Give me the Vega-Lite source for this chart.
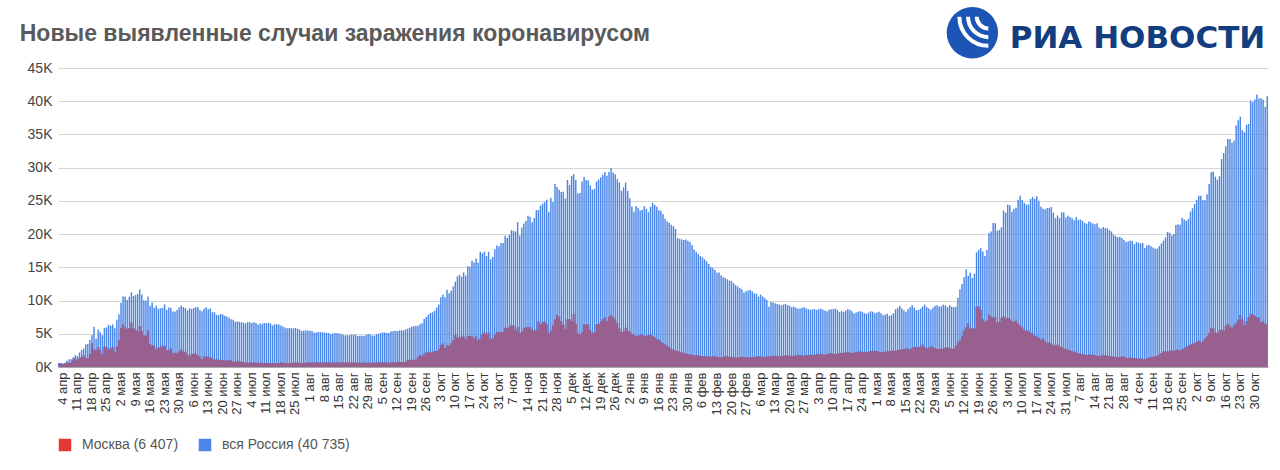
{
  "$schema": "https://vega.github.io/schema/vega-lite/v6.json",
  "autosize": "none",
  "width": 1210,
  "height": 299,
  "padding": {"left": 58, "right": 12, "top": 68, "bottom": 103},
  "background": "white",
  "datasets": {
    "covid": [
      {"d":"2020-04-02","r":601,"m":595},{"d":"2020-04-03","r":601,"m":499},{"d":"2020-04-04","r":582,"m":434},{"d":"2020-04-05","r":658,"m":536},{"d":"2020-04-06","r":954,"m":697},{"d":"2020-04-07","r":1154,"m":591},{"d":"2020-04-08","r":1175,"m":660},{"d":"2020-04-09","r":1459,"m":1124},{"d":"2020-04-10","r":1786,"m":1306},{"d":"2020-04-11","r":1667,"m":1030},{"d":"2020-04-12","r":2186,"m":1355},{"d":"2020-04-13","r":2558,"m":1489},{"d":"2020-04-14","r":2774,"m":1774},{"d":"2020-04-15","r":3388,"m":1359},{"d":"2020-04-16","r":3448,"m":1370},{"d":"2020-04-17","r":4070,"m":1959},{"d":"2020-04-18","r":4785,"m":3570},{"d":"2020-04-19","r":6060,"m":2649},{"d":"2020-04-20","r":4268,"m":2548},{"d":"2020-04-21","r":5642,"m":2957},{"d":"2020-04-22","r":5236,"m":2612},{"d":"2020-04-23","r":4774,"m":1959},{"d":"2020-04-24","r":5849,"m":3083},{"d":"2020-04-25","r":5966,"m":2971},{"d":"2020-04-26","r":6361,"m":2589},{"d":"2020-04-27","r":6198,"m":2871},{"d":"2020-04-28","r":6411,"m":2957},{"d":"2020-04-29","r":5841,"m":2220},{"d":"2020-04-30","r":7099,"m":3075},
      {"d":"2020-05-01","r":7933,"m":4100},{"d":"2020-05-02","r":9623,"m":5858},{"d":"2020-05-03","r":10633,"m":6418},{"d":"2020-05-04","r":10581,"m":5948},{"d":"2020-05-05","r":10102,"m":5714},{"d":"2020-05-06","r":10559,"m":5858},{"d":"2020-05-07","r":11231,"m":6703},{"d":"2020-05-08","r":10699,"m":5846},{"d":"2020-05-09","r":10817,"m":5667},{"d":"2020-05-10","r":11012,"m":5392},{"d":"2020-05-11","r":11656,"m":6169},{"d":"2020-05-12","r":10899,"m":5392},{"d":"2020-05-13","r":10028,"m":4748},{"d":"2020-05-14","r":9974,"m":4703},{"d":"2020-05-15","r":10598,"m":5505},{"d":"2020-05-16","r":9200,"m":3505},{"d":"2020-05-17","r":9709,"m":3238},{"d":"2020-05-18","r":8926,"m":3238},{"d":"2020-05-19","r":9263,"m":2699},{"d":"2020-05-20","r":8764,"m":2913},{"d":"2020-05-21","r":8849,"m":2988},{"d":"2020-05-22","r":8894,"m":3190},{"d":"2020-05-23","r":9434,"m":3187},{"d":"2020-05-24","r":8599,"m":2516},{"d":"2020-05-25","r":8946,"m":2546},{"d":"2020-05-26","r":8915,"m":2830},{"d":"2020-05-27","r":8338,"m":2054},{"d":"2020-05-28","r":8371,"m":2140},{"d":"2020-05-29","r":8572,"m":2054},{"d":"2020-05-30","r":8952,"m":2332},{"d":"2020-05-31","r":9268,"m":2595},
      {"d":"2020-06-01","r":9035,"m":2297},{"d":"2020-06-02","r":8863,"m":2286},{"d":"2020-06-03","r":8536,"m":1842},{"d":"2020-06-04","r":8831,"m":1572},{"d":"2020-06-05","r":8726,"m":1951},{"d":"2020-06-06","r":8855,"m":2001},{"d":"2020-06-07","r":8984,"m":2001},{"d":"2020-06-08","r":8985,"m":1732},{"d":"2020-06-09","r":8595,"m":1559},{"d":"2020-06-10","r":8404,"m":1195},{"d":"2020-06-11","r":8779,"m":1572},{"d":"2020-06-12","r":8987,"m":1547},{"d":"2020-06-13","r":8706,"m":1575},{"d":"2020-06-14","r":8835,"m":1380},{"d":"2020-06-15","r":8246,"m":1378},{"d":"2020-06-16","r":8248,"m":1057},{"d":"2020-06-17","r":7843,"m":1195},{"d":"2020-06-18","r":7790,"m":1068},{"d":"2020-06-19","r":7972,"m":1070},{"d":"2020-06-20","r":7889,"m":1068},{"d":"2020-06-21","r":7728,"m":936},{"d":"2020-06-22","r":7600,"m":1060},{"d":"2020-06-23","r":7425,"m":1000},{"d":"2020-06-24","r":7176,"m":1000},{"d":"2020-06-25","r":7113,"m":804},{"d":"2020-06-26","r":6800,"m":734},{"d":"2020-06-27","r":6852,"m":848},{"d":"2020-06-28","r":6791,"m":844},{"d":"2020-06-29","r":6719,"m":829},{"d":"2020-06-30","r":6693,"m":711},
      {"d":"2020-07-01","r":6556,"m":673},{"d":"2020-07-02","r":6760,"m":654},{"d":"2020-07-03","r":6718,"m":659},{"d":"2020-07-04","r":6632,"m":651},{"d":"2020-07-05","r":6736,"m":660},{"d":"2020-07-06","r":6611,"m":644},{"d":"2020-07-07","r":6368,"m":659},{"d":"2020-07-08","r":6562,"m":589},{"d":"2020-07-09","r":6509,"m":650},{"d":"2020-07-10","r":6635,"m":600},{"d":"2020-07-11","r":6611,"m":626},{"d":"2020-07-12","r":6615,"m":569},{"d":"2020-07-13","r":6537,"m":589},{"d":"2020-07-14","r":6248,"m":601},{"d":"2020-07-15","r":6422,"m":608},{"d":"2020-07-16","r":6428,"m":577},{"d":"2020-07-17","r":6406,"m":611},{"d":"2020-07-18","r":6234,"m":697},{"d":"2020-07-19","r":6109,"m":654},{"d":"2020-07-20","r":5940,"m":639},{"d":"2020-07-21","r":5842,"m":605},{"d":"2020-07-22","r":5862,"m":567},{"d":"2020-07-23","r":5848,"m":589},{"d":"2020-07-24","r":5811,"m":641},{"d":"2020-07-25","r":5871,"m":651},{"d":"2020-07-26","r":5765,"m":668},{"d":"2020-07-27","r":5635,"m":608},{"d":"2020-07-28","r":5395,"m":575},{"d":"2020-07-29","r":5475,"m":644},{"d":"2020-07-30","r":5509,"m":645},{"d":"2020-07-31","r":5482,"m":680},
      {"d":"2020-08-01","r":5462,"m":695},{"d":"2020-08-02","r":5427,"m":686},{"d":"2020-08-03","r":5159,"m":662},{"d":"2020-08-04","r":5204,"m":688},{"d":"2020-08-05","r":5267,"m":697},{"d":"2020-08-06","r":5241,"m":684},{"d":"2020-08-07","r":5212,"m":686},{"d":"2020-08-08","r":5189,"m":693},{"d":"2020-08-09","r":5118,"m":692},{"d":"2020-08-10","r":5102,"m":683},{"d":"2020-08-11","r":4945,"m":678},{"d":"2020-08-12","r":5041,"m":681},{"d":"2020-08-13","r":5102,"m":689},{"d":"2020-08-14","r":5065,"m":693},{"d":"2020-08-15","r":5061,"m":698},{"d":"2020-08-16","r":4969,"m":691},{"d":"2020-08-17","r":4839,"m":690},{"d":"2020-08-18","r":4748,"m":668},{"d":"2020-08-19","r":4790,"m":674},{"d":"2020-08-20","r":4767,"m":679},{"d":"2020-08-21","r":4870,"m":685},{"d":"2020-08-22","r":4838,"m":675},{"d":"2020-08-23","r":4852,"m":660},{"d":"2020-08-24","r":4676,"m":646},{"d":"2020-08-25","r":4696,"m":649},{"d":"2020-08-26","r":4711,"m":633},{"d":"2020-08-27","r":4676,"m":632},{"d":"2020-08-28","r":4829,"m":629},{"d":"2020-08-29","r":4980,"m":687},{"d":"2020-08-30","r":4897,"m":641},{"d":"2020-08-31","r":4729,"m":647},
      {"d":"2020-09-01","r":4729,"m":632},{"d":"2020-09-02","r":4952,"m":668},{"d":"2020-09-03","r":4995,"m":705},{"d":"2020-09-04","r":5110,"m":691},{"d":"2020-09-05","r":5205,"m":700},{"d":"2020-09-06","r":5185,"m":695},{"d":"2020-09-07","r":5099,"m":698},{"d":"2020-09-08","r":5099,"m":650},{"d":"2020-09-09","r":5363,"m":695},{"d":"2020-09-10","r":5363,"m":727},{"d":"2020-09-11","r":5449,"m":733},{"d":"2020-09-12","r":5406,"m":744},{"d":"2020-09-13","r":5488,"m":765},{"d":"2020-09-14","r":5509,"m":752},{"d":"2020-09-15","r":5529,"m":718},{"d":"2020-09-16","r":5670,"m":770},{"d":"2020-09-17","r":5762,"m":1050},{"d":"2020-09-18","r":5905,"m":1095},{"d":"2020-09-19","r":6065,"m":1040},{"d":"2020-09-20","r":6148,"m":1056},{"d":"2020-09-21","r":6196,"m":1136},{"d":"2020-09-22","r":6215,"m":1560},{"d":"2020-09-23","r":6431,"m":1792},{"d":"2020-09-24","r":6595,"m":1660},{"d":"2020-09-25","r":7212,"m":2016},{"d":"2020-09-26","r":7523,"m":2200},{"d":"2020-09-27","r":7867,"m":2216},{"d":"2020-09-28","r":8135,"m":2300},{"d":"2020-09-29","r":8232,"m":2140},{"d":"2020-09-30","r":8481,"m":2424},
      {"d":"2020-10-01","r":8945,"m":2424},{"d":"2020-10-02","r":9412,"m":2704},{"d":"2020-10-03","r":10499,"m":3327},{"d":"2020-10-04","r":10888,"m":3537},{"d":"2020-10-05","r":10499,"m":2871},{"d":"2020-10-06","r":11615,"m":3229},{"d":"2020-10-07","r":11115,"m":3254},{"d":"2020-10-08","r":11493,"m":3537},{"d":"2020-10-09","r":12126,"m":4082},{"d":"2020-10-10","r":12846,"m":4842},{"d":"2020-10-11","r":13634,"m":4406},{"d":"2020-10-12","r":13868,"m":4441},{"d":"2020-10-13","r":13592,"m":4575},{"d":"2020-10-14","r":14231,"m":4565},{"d":"2020-10-15","r":13754,"m":4212},{"d":"2020-10-16","r":15150,"m":4648},{"d":"2020-10-17","r":15099,"m":4629},{"d":"2020-10-18","r":15982,"m":4610},{"d":"2020-10-19","r":15722,"m":4293},{"d":"2020-10-20","r":16319,"m":4593},{"d":"2020-10-21","r":15700,"m":4016},{"d":"2020-10-22","r":17340,"m":4285},{"d":"2020-10-23","r":17113,"m":4964},{"d":"2020-10-24","r":17347,"m":5232},{"d":"2020-10-25","r":16710,"m":4983},{"d":"2020-10-26","r":17347,"m":5224},{"d":"2020-10-27","r":16202,"m":4244},{"d":"2020-10-28","r":16550,"m":4312},{"d":"2020-10-29","r":17717,"m":4844},{"d":"2020-10-30","r":18283,"m":5268},{"d":"2020-10-31","r":18140,"m":5209},
      {"d":"2020-11-01","r":18665,"m":5261},{"d":"2020-11-02","r":18648,"m":5257},{"d":"2020-11-03","r":19768,"m":5902},{"d":"2020-11-04","r":19404,"m":5882},{"d":"2020-11-05","r":19851,"m":5971},{"d":"2020-11-06","r":20582,"m":6253},{"d":"2020-11-07","r":20498,"m":6230},{"d":"2020-11-08","r":20396,"m":5482},{"d":"2020-11-09","r":21798,"m":5997},{"d":"2020-11-10","r":19788,"m":5061},{"d":"2020-11-11","r":20977,"m":5358},{"d":"2020-11-12","r":21608,"m":5829},{"d":"2020-11-13","r":21983,"m":5986},{"d":"2020-11-14","r":22778,"m":5981},{"d":"2020-11-15","r":22572,"m":6001},{"d":"2020-11-16","r":21798,"m":5631},{"d":"2020-11-17","r":22410,"m":5403},{"d":"2020-11-18","r":23610,"m":5623},{"d":"2020-11-19","r":23610,"m":6902},{"d":"2020-11-20","r":24318,"m":6424},{"d":"2020-11-21","r":24581,"m":6775},{"d":"2020-11-22","r":24822,"m":6866},{"d":"2020-11-23","r":25173,"m":6438},{"d":"2020-11-24","r":23351,"m":5027},{"d":"2020-11-25","r":25487,"m":5455},{"d":"2020-11-26","r":24838,"m":6302},{"d":"2020-11-27","r":27543,"m":7168},{"d":"2020-11-28","r":27100,"m":7872},{"d":"2020-11-29","r":26683,"m":7578},{"d":"2020-11-30","r":26338,"m":6902},
      {"d":"2020-12-01","r":26402,"m":6349},{"d":"2020-12-02","r":25345,"m":5694},{"d":"2020-12-03","r":28145,"m":7168},{"d":"2020-12-04","r":27403,"m":7168},{"d":"2020-12-05","r":28782,"m":6879},{"d":"2020-12-06","r":29039,"m":7993},{"d":"2020-12-07","r":28142,"m":6509},{"d":"2020-12-08","r":26097,"m":5093},{"d":"2020-12-09","r":26190,"m":4902},{"d":"2020-12-10","r":27927,"m":5254},{"d":"2020-12-11","r":28585,"m":6423},{"d":"2020-12-12","r":28137,"m":6348},{"d":"2020-12-13","r":28080,"m":6463},{"d":"2020-12-14","r":27328,"m":5623},{"d":"2020-12-15","r":26689,"m":5112},{"d":"2020-12-16","r":26809,"m":5222},{"d":"2020-12-17","r":27921,"m":6430},{"d":"2020-12-18","r":28209,"m":6478},{"d":"2020-12-19","r":28552,"m":6808},{"d":"2020-12-20","r":28948,"m":7208},{"d":"2020-12-21","r":29350,"m":7504},{"d":"2020-12-22","r":28776,"m":6914},{"d":"2020-12-23","r":29350,"m":7570},{"d":"2020-12-24","r":29935,"m":7797},{"d":"2020-12-25","r":29258,"m":7570},{"d":"2020-12-26","r":29018,"m":7187},{"d":"2020-12-27","r":28284,"m":6603},{"d":"2020-12-28","r":27787,"m":5789},{"d":"2020-12-29","r":26513,"m":5286},{"d":"2020-12-30","r":27039,"m":5341},{"d":"2020-12-31","r":27747,"m":5904},
      {"d":"2021-01-01","r":26500,"m":5500},{"d":"2021-01-02","r":25400,"m":5300},{"d":"2021-01-03","r":24150,"m":4995},{"d":"2021-01-04","r":23351,"m":4800},{"d":"2021-01-05","r":24246,"m":4650},{"d":"2021-01-06","r":23946,"m":4700},{"d":"2021-01-07","r":23541,"m":4800},{"d":"2021-01-08","r":23652,"m":4890},{"d":"2021-01-09","r":24217,"m":4700},{"d":"2021-01-10","r":23800,"m":4620},{"d":"2021-01-11","r":23309,"m":4820},{"d":"2021-01-12","r":24092,"m":4900},{"d":"2021-01-13","r":24715,"m":4650},{"d":"2021-01-14","r":24400,"m":4500},{"d":"2021-01-15","r":24100,"m":4200},{"d":"2021-01-16","r":23600,"m":4100},{"d":"2021-01-17","r":23500,"m":3800},{"d":"2021-01-18","r":23000,"m":3600},{"d":"2021-01-19","r":22300,"m":3400},{"d":"2021-01-20","r":21900,"m":3200},{"d":"2021-01-21","r":21700,"m":3000},{"d":"2021-01-22","r":21400,"m":2700},{"d":"2021-01-23","r":21200,"m":2600},{"d":"2021-01-24","r":20800,"m":2500},{"d":"2021-01-25","r":19400,"m":2400},{"d":"2021-01-26","r":19300,"m":2300},{"d":"2021-01-27","r":19200,"m":2200},{"d":"2021-01-28","r":19100,"m":2100},{"d":"2021-01-29","r":19200,"m":2000},{"d":"2021-01-30","r":19000,"m":1950},{"d":"2021-01-31","r":18800,"m":1900},
      {"d":"2021-02-01","r":18359,"m":1850},{"d":"2021-02-02","r":17700,"m":1800},{"d":"2021-02-03","r":17300,"m":1750},{"d":"2021-02-04","r":17000,"m":1780},{"d":"2021-02-05","r":16688,"m":1700},{"d":"2021-02-06","r":16500,"m":1650},{"d":"2021-02-07","r":16200,"m":1600},{"d":"2021-02-08","r":15900,"m":1620},{"d":"2021-02-09","r":15500,"m":1580},{"d":"2021-02-10","r":15038,"m":1560},{"d":"2021-02-11","r":14900,"m":1600},{"d":"2021-02-12","r":14600,"m":1650},{"d":"2021-02-13","r":14200,"m":1550},{"d":"2021-02-14","r":14207,"m":1500},{"d":"2021-02-15","r":13800,"m":1480},{"d":"2021-02-16","r":13500,"m":1520},{"d":"2021-02-17","r":13400,"m":1600},{"d":"2021-02-18","r":13200,"m":1580},{"d":"2021-02-19","r":13000,"m":1550},{"d":"2021-02-20","r":12953,"m":1500},{"d":"2021-02-21","r":12600,"m":1450},{"d":"2021-02-22","r":12300,"m":1400},{"d":"2021-02-23","r":12100,"m":1480},{"d":"2021-02-24","r":11900,"m":1520},{"d":"2021-02-25","r":11700,"m":1550},{"d":"2021-02-26","r":11198,"m":1500},{"d":"2021-02-27","r":11400,"m":1450},{"d":"2021-02-28","r":11500,"m":1480},
      {"d":"2021-03-01","r":11571,"m":1450},{"d":"2021-03-02","r":11400,"m":1480},{"d":"2021-03-03","r":11100,"m":1520},{"d":"2021-03-04","r":11000,"m":1580},{"d":"2021-03-05","r":10595,"m":1600},{"d":"2021-03-06","r":10900,"m":1620},{"d":"2021-03-07","r":10600,"m":1550},{"d":"2021-03-08","r":10400,"m":1500},{"d":"2021-03-09","r":10100,"m":1580},{"d":"2021-03-10","r":9079,"m":1620},{"d":"2021-03-11","r":9800,"m":1650},{"d":"2021-03-12","r":9700,"m":1700},{"d":"2021-03-13","r":9600,"m":1680},{"d":"2021-03-14","r":9500,"m":1620},{"d":"2021-03-15","r":9393,"m":1600},{"d":"2021-03-16","r":9300,"m":1650},{"d":"2021-03-17","r":9400,"m":1700},{"d":"2021-03-18","r":9500,"m":1750},{"d":"2021-03-19","r":9300,"m":1720},{"d":"2021-03-20","r":9215,"m":1680},{"d":"2021-03-21","r":9000,"m":1650},{"d":"2021-03-22","r":9100,"m":1700},{"d":"2021-03-23","r":8900,"m":1750},{"d":"2021-03-24","r":8800,"m":1800},{"d":"2021-03-25","r":8769,"m":1780},{"d":"2021-03-26","r":8900,"m":1720},{"d":"2021-03-27","r":9000,"m":1700},{"d":"2021-03-28","r":8800,"m":1750},{"d":"2021-03-29","r":8700,"m":1800},{"d":"2021-03-30","r":8600,"m":1850},{"d":"2021-03-31","r":8700,"m":1800},
      {"d":"2021-04-01","r":8711,"m":1850},{"d":"2021-04-02","r":8600,"m":1900},{"d":"2021-04-03","r":8700,"m":1950},{"d":"2021-04-04","r":8800,"m":2000},{"d":"2021-04-05","r":8600,"m":1900},{"d":"2021-04-06","r":8500,"m":1850},{"d":"2021-04-07","r":8400,"m":1950},{"d":"2021-04-08","r":8600,"m":2050},{"d":"2021-04-09","r":8700,"m":2100},{"d":"2021-04-10","r":8702,"m":2000},{"d":"2021-04-11","r":8800,"m":1950},{"d":"2021-04-12","r":8600,"m":2050},{"d":"2021-04-13","r":8300,"m":2100},{"d":"2021-04-14","r":8400,"m":2150},{"d":"2021-04-15","r":8300,"m":2100},{"d":"2021-04-16","r":8500,"m":2200},{"d":"2021-04-17","r":8700,"m":2250},{"d":"2021-04-18","r":8600,"m":2200},{"d":"2021-04-19","r":8400,"m":2100},{"d":"2021-04-20","r":8053,"m":2150},{"d":"2021-04-21","r":8200,"m":2250},{"d":"2021-04-22","r":8300,"m":2300},{"d":"2021-04-23","r":8400,"m":2350},{"d":"2021-04-24","r":8300,"m":2300},{"d":"2021-04-25","r":8100,"m":2250},{"d":"2021-04-26","r":8000,"m":2200},{"d":"2021-04-27","r":8200,"m":2300},{"d":"2021-04-28","r":8400,"m":2400},{"d":"2021-04-29","r":8300,"m":2450},{"d":"2021-04-30","r":8100,"m":2400},
      {"d":"2021-05-01","r":8200,"m":2400},{"d":"2021-05-02","r":8300,"m":2300},{"d":"2021-05-03","r":8100,"m":2250},{"d":"2021-05-04","r":7800,"m":2200},{"d":"2021-05-05","r":7900,"m":2300},{"d":"2021-05-06","r":8000,"m":2350},{"d":"2021-05-07","r":7700,"m":2400},{"d":"2021-05-08","r":7800,"m":2450},{"d":"2021-05-09","r":8100,"m":2500},{"d":"2021-05-10","r":8697,"m":2400},{"d":"2021-05-11","r":8900,"m":2550},{"d":"2021-05-12","r":9200,"m":2600},{"d":"2021-05-13","r":8800,"m":2650},{"d":"2021-05-14","r":8500,"m":2700},{"d":"2021-05-15","r":8300,"m":2800},{"d":"2021-05-16","r":8700,"m":2750},{"d":"2021-05-17","r":9000,"m":2650},{"d":"2021-05-18","r":9300,"m":2900},{"d":"2021-05-19","r":8900,"m":3000},{"d":"2021-05-20","r":8564,"m":3050},{"d":"2021-05-21","r":8600,"m":2950},{"d":"2021-05-22","r":8800,"m":3100},{"d":"2021-05-23","r":9100,"m":3400},{"d":"2021-05-24","r":9400,"m":3000},{"d":"2021-05-25","r":9000,"m":2800},{"d":"2021-05-26","r":8800,"m":2900},{"d":"2021-05-27","r":8600,"m":3100},{"d":"2021-05-28","r":8900,"m":3000},{"d":"2021-05-29","r":9200,"m":2850},{"d":"2021-05-30","r":9300,"m":2700},{"d":"2021-05-31","r":9100,"m":2750},
      {"d":"2021-06-01","r":9145,"m":2700},{"d":"2021-06-02","r":9400,"m":2800},{"d":"2021-06-03","r":9300,"m":2900},{"d":"2021-06-04","r":9000,"m":3000},{"d":"2021-06-05","r":9289,"m":2850},{"d":"2021-06-06","r":9100,"m":2700},{"d":"2021-06-07","r":9000,"m":2800},{"d":"2021-06-08","r":9068,"m":3200},{"d":"2021-06-09","r":10407,"m":3700},{"d":"2021-06-10","r":11699,"m":4000},{"d":"2021-06-11","r":12505,"m":4700},{"d":"2021-06-12","r":13510,"m":5500},{"d":"2021-06-13","r":14723,"m":6000},{"d":"2021-06-14","r":13721,"m":6590},{"d":"2021-06-15","r":14185,"m":5782},{"d":"2021-06-16","r":13397,"m":5850},{"d":"2021-06-17","r":14057,"m":5800},{"d":"2021-06-18","r":17262,"m":9056},{"d":"2021-06-19","r":17611,"m":9120},{"d":"2021-06-20","r":17906,"m":8598},{"d":"2021-06-21","r":17378,"m":7178},{"d":"2021-06-22","r":16715,"m":6800},{"d":"2021-06-23","r":17594,"m":6986},{"d":"2021-06-24","r":20182,"m":7916},{"d":"2021-06-25","r":20393,"m":7597},{"d":"2021-06-26","r":21665,"m":7400},{"d":"2021-06-27","r":21650,"m":7510},{"d":"2021-06-28","r":20538,"m":6700},{"d":"2021-06-29","r":20616,"m":6800},{"d":"2021-06-30","r":21042,"m":7400},
      {"d":"2021-07-01","r":23543,"m":7600},{"d":"2021-07-02","r":23218,"m":7300},{"d":"2021-07-03","r":24439,"m":7400},{"d":"2021-07-04","r":24353,"m":7200},{"d":"2021-07-05","r":23378,"m":6900},{"d":"2021-07-06","r":23770,"m":6800},{"d":"2021-07-07","r":23962,"m":7000},{"d":"2021-07-08","r":25116,"m":6600},{"d":"2021-07-09","r":25766,"m":6300},{"d":"2021-07-10","r":25142,"m":6000},{"d":"2021-07-11","r":24702,"m":5600},{"d":"2021-07-12","r":24439,"m":5400},{"d":"2021-07-13","r":24471,"m":5500},{"d":"2021-07-14","r":25293,"m":5200},{"d":"2021-07-15","r":25600,"m":5000},{"d":"2021-07-16","r":25293,"m":4700},{"d":"2021-07-17","r":25704,"m":4600},{"d":"2021-07-18","r":25018,"m":4400},{"d":"2021-07-19","r":24100,"m":4100},{"d":"2021-07-20","r":23811,"m":4300},{"d":"2021-07-21","r":23704,"m":3900},{"d":"2021-07-22","r":23948,"m":3600},{"d":"2021-07-23","r":23947,"m":3700},{"d":"2021-07-24","r":24072,"m":3500},{"d":"2021-07-25","r":23239,"m":3300},{"d":"2021-07-26","r":22400,"m":3200},{"d":"2021-07-27","r":22804,"m":3400},{"d":"2021-07-28","r":22400,"m":3100},{"d":"2021-07-29","r":23300,"m":3000},{"d":"2021-07-30","r":23270,"m":2800},{"d":"2021-07-31","r":22500,"m":2700},
      {"d":"2021-08-01","r":22800,"m":2600},{"d":"2021-08-02","r":22589,"m":2500},{"d":"2021-08-03","r":22400,"m":2400},{"d":"2021-08-04","r":22100,"m":2300},{"d":"2021-08-05","r":22589,"m":2200},{"d":"2021-08-06","r":22144,"m":2100},{"d":"2021-08-07","r":22200,"m":2000},{"d":"2021-08-08","r":22000,"m":2000},{"d":"2021-08-09","r":21700,"m":1900},{"d":"2021-08-10","r":21571,"m":1800},{"d":"2021-08-11","r":21900,"m":1850},{"d":"2021-08-12","r":21800,"m":1900},{"d":"2021-08-13","r":21600,"m":1800},{"d":"2021-08-14","r":21500,"m":1750},{"d":"2021-08-15","r":21624,"m":1700},{"d":"2021-08-16","r":21000,"m":1650},{"d":"2021-08-17","r":20800,"m":1700},{"d":"2021-08-18","r":21058,"m":1800},{"d":"2021-08-19","r":20900,"m":1750},{"d":"2021-08-20","r":20881,"m":1700},{"d":"2021-08-21","r":20600,"m":1650},{"d":"2021-08-22","r":20400,"m":1600},{"d":"2021-08-23","r":19900,"m":1550},{"d":"2021-08-24","r":19700,"m":1500},{"d":"2021-08-25","r":19509,"m":1450},{"d":"2021-08-26","r":19600,"m":1500},{"d":"2021-08-27","r":19400,"m":1600},{"d":"2021-08-28","r":19100,"m":1550},{"d":"2021-08-29","r":18800,"m":1400},{"d":"2021-08-30","r":18900,"m":1350},{"d":"2021-08-31","r":18985,"m":1400},
      {"d":"2021-09-01","r":18985,"m":1400},{"d":"2021-09-02","r":18500,"m":1350},{"d":"2021-09-03","r":18800,"m":1300},{"d":"2021-09-04","r":18700,"m":1250},{"d":"2021-09-05","r":18600,"m":1300},{"d":"2021-09-06","r":18645,"m":1200},{"d":"2021-09-07","r":17900,"m":1150},{"d":"2021-09-08","r":18300,"m":1300},{"d":"2021-09-09","r":18400,"m":1400},{"d":"2021-09-10","r":18178,"m":1500},{"d":"2021-09-11","r":18000,"m":1550},{"d":"2021-09-12","r":17800,"m":1600},{"d":"2021-09-13","r":17837,"m":1700},{"d":"2021-09-14","r":18200,"m":1900},{"d":"2021-09-15","r":18600,"m":2100},{"d":"2021-09-16","r":19000,"m":2300},{"d":"2021-09-17","r":19500,"m":2400},{"d":"2021-09-18","r":20329,"m":2300},{"d":"2021-09-19","r":20200,"m":2450},{"d":"2021-09-20","r":19800,"m":2500},{"d":"2021-09-21","r":20000,"m":2400},{"d":"2021-09-22","r":21379,"m":2550},{"d":"2021-09-23","r":21500,"m":2600},{"d":"2021-09-24","r":21400,"m":2500},{"d":"2021-09-25","r":22430,"m":2700},{"d":"2021-09-26","r":22200,"m":2800},{"d":"2021-09-27","r":22000,"m":3000},{"d":"2021-09-28","r":22300,"m":3200},{"d":"2021-09-29","r":23400,"m":3400},{"d":"2021-09-30","r":23888,"m":3500},
      {"d":"2021-10-01","r":24522,"m":3600},{"d":"2021-10-02","r":25133,"m":3800},{"d":"2021-10-03","r":25769,"m":4000},{"d":"2021-10-04","r":25781,"m":3700},{"d":"2021-10-05","r":25110,"m":3900},{"d":"2021-10-06","r":25133,"m":4300},{"d":"2021-10-07","r":26000,"m":4600},{"d":"2021-10-08","r":27550,"m":5100},{"d":"2021-10-09","r":29362,"m":5900},{"d":"2021-10-10","r":29409,"m":5800},{"d":"2021-10-11","r":28647,"m":5200},{"d":"2021-10-12","r":28190,"m":5100},{"d":"2021-10-13","r":28717,"m":5500},{"d":"2021-10-14","r":31299,"m":5600},{"d":"2021-10-15","r":32196,"m":5500},{"d":"2021-10-16","r":33208,"m":6200},{"d":"2021-10-17","r":34303,"m":6500},{"d":"2021-10-18","r":34325,"m":6100},{"d":"2021-10-19","r":33740,"m":5900},{"d":"2021-10-20","r":34073,"m":6300},{"d":"2021-10-21","r":36339,"m":6600},{"d":"2021-10-22","r":37141,"m":7100},{"d":"2021-10-23","r":37678,"m":7800},{"d":"2021-10-24","r":35660,"m":7200},{"d":"2021-10-25","r":35329,"m":6300},{"d":"2021-10-26","r":36446,"m":6900},{"d":"2021-10-27","r":36582,"m":7500},{"d":"2021-10-28","r":40096,"m":8000},{"d":"2021-10-29","r":39849,"m":7900},{"d":"2021-10-30","r":40251,"m":7700},{"d":"2021-10-31","r":40993,"m":7500},
      {"d":"2021-11-01","r":40402,"m":7400},{"d":"2021-11-02","r":40443,"m":6700},{"d":"2021-11-03","r":40217,"m":6900},{"d":"2021-11-04","r":39160,"m":6500},{"d":"2021-11-05","r":40735,"m":6407}
    ]
  },
  "layer": [
    {
      "data": {"name": "covid"},
      "mark": {"type": "bar"},
      "encoding": {
        "x": {
          "field": "d", "type": "ordinal",
          "scale": {"paddingInner": 0.3, "paddingOuter": 0},
          "axis": {"title": null, "labelAngle": -90, "labelFontSize": 13, "labelColor": "#333", "labelPadding": 5, "labelOverlap": false, "ticks": false, "domainColor": "#aaaaaa", "labelExpr": "utcday(toDate(datum.value)) == 6 ? utcdate(toDate(datum.value)) + ' ' + ['янв','фев','мар','апр','мая','июн','июл','авг','сен','окт','ноя','дек'][utcmonth(toDate(datum.value))] : ''"}
        },
        "y": {
          "field": "r", "type": "quantitative",
          "scale": {"domain": [0, 45000], "nice": false},
          "axis": {"title": null, "values": [0, 5000, 10000, 15000, 20000, 25000, 30000, 35000, 40000, 45000], "labelExpr": "(datum.value / 1000) + 'K'", "labelFontSize": 14, "labelColor": "#444", "labelPadding": 6, "ticks": false, "domain": false, "gridColor": "#d4d4d4"}
        },
        "color": {
          "datum": "вся Россия (40 735)", "type": "nominal",
          "scale": {"domain": ["Москва (6 407)", "вся Россия (40 735)"], "range": ["#e53935", "#4a86e8"]},
          "legend": {"title": null, "orient": "none", "legendX": 0, "legendY": 370, "direction": "horizontal", "symbolType": "square", "symbolSize": 156, "symbolOpacity": 1, "symbolStrokeWidth": 0, "labelFontSize": 14, "labelColor": "#555", "labelOffset": 10, "columnPadding": 19}
        }
      }
    },
    {
      "data": {"name": "covid"},
      "mark": {"type": "area", "interpolate": "step", "color": "#4a86e8"},
      "encoding": {
        "x": {
          "field": "d", "type": "ordinal",
          "axis": {"title": null, "labelAngle": -90, "labelFontSize": 13, "labelColor": "#333", "labelPadding": 5, "labelOverlap": false, "ticks": false, "domainColor": "#aaaaaa", "labelExpr": "utcday(toDate(datum.value)) == 6 ? utcdate(toDate(datum.value)) + ' ' + ['янв','фев','мар','апр','мая','июн','июл','авг','сен','окт','ноя','дек'][utcmonth(toDate(datum.value))] : ''"}
        },
        "y": {
          "field": "m", "type": "quantitative",
          "axis": {"title": null, "values": [0, 5000, 10000, 15000, 20000, 25000, 30000, 35000, 40000, 45000], "labelExpr": "(datum.value / 1000) + 'K'", "labelFontSize": 14, "labelColor": "#444", "labelPadding": 6, "ticks": false, "domain": false, "gridColor": "#d4d4d4"}
        }
      }
    },
    {
      "data": {"name": "covid"},
      "mark": {"type": "area", "interpolate": "step", "fillOpacity": 0.5},
      "encoding": {
        "x": {
          "field": "d", "type": "ordinal",
          "axis": {"title": null, "labelAngle": -90, "labelFontSize": 13, "labelColor": "#333", "labelPadding": 5, "labelOverlap": false, "ticks": false, "domainColor": "#aaaaaa", "labelExpr": "utcday(toDate(datum.value)) == 6 ? utcdate(toDate(datum.value)) + ' ' + ['янв','фев','мар','апр','мая','июн','июл','авг','сен','окт','ноя','дек'][utcmonth(toDate(datum.value))] : ''"}
        },
        "y": {
          "field": "m", "type": "quantitative",
          "axis": {"title": null, "values": [0, 5000, 10000, 15000, 20000, 25000, 30000, 35000, 40000, 45000], "labelExpr": "(datum.value / 1000) + 'K'", "labelFontSize": 14, "labelColor": "#444", "labelPadding": 6, "ticks": false, "domain": false, "gridColor": "#d4d4d4"}
        },
        "color": {"datum": "Москва (6 407)", "type": "nominal"}
      }
    },
    {
      "data": {"values": [{"t": "Новые выявленные случаи заражения коронавирусом"}]},
      "mark": {"type": "text", "align": "left", "baseline": "alphabetic", "font": "Liberation Sans", "fontSize": 23, "fontWeight": "bold", "color": "#5a5a5a", "dx": -39},
      "encoding": {
        "x": {
          "datum": "2020-04-02", "type": "ordinal",
          "axis": {"title": null, "labelAngle": -90, "labelFontSize": 13, "labelColor": "#333", "labelPadding": 5, "labelOverlap": false, "ticks": false, "domainColor": "#aaaaaa", "labelExpr": "utcday(toDate(datum.value)) == 6 ? utcdate(toDate(datum.value)) + ' ' + ['янв','фев','мар','апр','мая','июн','июл','авг','сен','окт','ноя','дек'][utcmonth(toDate(datum.value))] : ''"}
        },
        "y": {
          "datum": 49050, "type": "quantitative",
          "axis": {"title": null, "values": [0, 5000, 10000, 15000, 20000, 25000, 30000, 35000, 40000, 45000], "labelExpr": "(datum.value / 1000) + 'K'", "labelFontSize": 14, "labelColor": "#444", "labelPadding": 6, "ticks": false, "domain": false, "gridColor": "#d4d4d4"}
        },
        "text": {"field": "t"}
      }
    },
    {
      "data": {"values": [{"t": "РИА НОВОСТИ"}]},
      "mark": {"type": "text", "align": "right", "baseline": "alphabetic", "font": "DejaVu Sans", "fontSize": 31, "fontWeight": "bold", "color": "#123d7e", "dx": -2},
      "encoding": {
        "x": {
          "datum": "2021-11-05", "type": "ordinal",
          "axis": {"title": null, "labelAngle": -90, "labelFontSize": 13, "labelColor": "#333", "labelPadding": 5, "labelOverlap": false, "ticks": false, "domainColor": "#aaaaaa", "labelExpr": "utcday(toDate(datum.value)) == 6 ? utcdate(toDate(datum.value)) + ' ' + ['янв','фев','мар','апр','мая','июн','июл','авг','сен','окт','ноя','дек'][utcmonth(toDate(datum.value))] : ''"}
        },
        "y": {
          "datum": 48000, "type": "quantitative",
          "axis": {"title": null, "values": [0, 5000, 10000, 15000, 20000, 25000, 30000, 35000, 40000, 45000], "labelExpr": "(datum.value / 1000) + 'K'", "labelFontSize": 14, "labelColor": "#444", "labelPadding": 6, "ticks": false, "domain": false, "gridColor": "#d4d4d4"}
        },
        "text": {"field": "t"}
      }
    },
    {
      "data": {"values": [{"t": "globe"}]},
      "mark": {"type": "point", "shape": "circle", "filled": true, "size": 2640, "color": "#1d55b6", "opacity": 1},
      "encoding": {
        "x": {
          "datum": "2021-06-16", "type": "ordinal",
          "axis": {"title": null, "labelAngle": -90, "labelFontSize": 13, "labelColor": "#333", "labelPadding": 5, "labelOverlap": false, "ticks": false, "domainColor": "#aaaaaa", "labelExpr": "utcday(toDate(datum.value)) == 6 ? utcdate(toDate(datum.value)) + ' ' + ['янв','фев','мар','апр','мая','июн','июл','авг','сен','окт','ноя','дек'][utcmonth(toDate(datum.value))] : ''"}
        },
        "y": {
          "datum": 50300, "type": "quantitative",
          "axis": {"title": null, "values": [0, 5000, 10000, 15000, 20000, 25000, 30000, 35000, 40000, 45000], "labelExpr": "(datum.value / 1000) + 'K'", "labelFontSize": 14, "labelColor": "#444", "labelPadding": 6, "ticks": false, "domain": false, "gridColor": "#d4d4d4"}
        }
      }
    },
    {
      "data": {"values": [{"t": "arcs"}]},
      "mark": {"type": "point", "shape": "M 0.15 -0.55 A 0.4 0.4 0 0 0 0.55 -0.15 M -0.15 -0.55 A 0.7 0.7 0 0 0 0.55 0.15 M -0.45 -0.55 A 1.0 1.0 0 0 0 0.55 0.45", "filled": false, "size": 3364, "stroke": "white", "strokeWidth": 4, "opacity": 1},
      "encoding": {
        "x": {
          "datum": "2021-06-16", "type": "ordinal",
          "axis": {"title": null, "labelAngle": -90, "labelFontSize": 13, "labelColor": "#333", "labelPadding": 5, "labelOverlap": false, "ticks": false, "domainColor": "#aaaaaa", "labelExpr": "utcday(toDate(datum.value)) == 6 ? utcdate(toDate(datum.value)) + ' ' + ['янв','фев','мар','апр','мая','июн','июл','авг','сен','окт','ноя','дек'][utcmonth(toDate(datum.value))] : ''"}
        },
        "y": {
          "datum": 50300, "type": "quantitative",
          "axis": {"title": null, "values": [0, 5000, 10000, 15000, 20000, 25000, 30000, 35000, 40000, 45000], "labelExpr": "(datum.value / 1000) + 'K'", "labelFontSize": 14, "labelColor": "#444", "labelPadding": 6, "ticks": false, "domain": false, "gridColor": "#d4d4d4"}
        }
      }
    }
  ],
  "config": {
    "font": "Liberation Sans",
    "view": {"stroke": null}
  }
}
